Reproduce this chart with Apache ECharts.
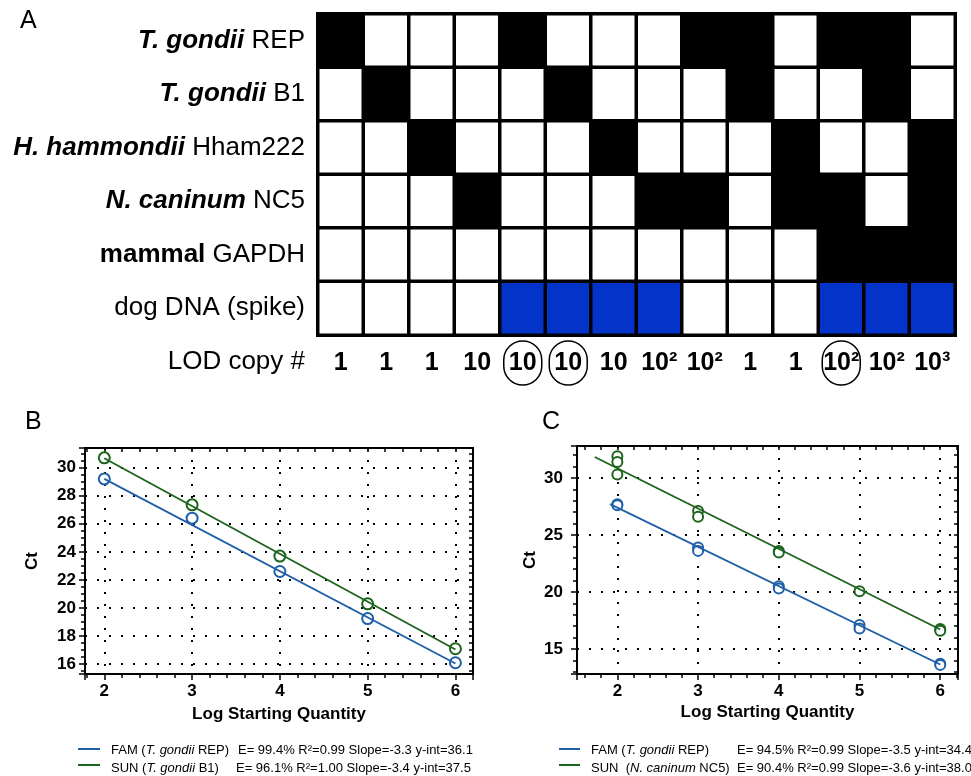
<!DOCTYPE html>
<html>
<head>
<meta charset="utf-8">
<script src="https://cdn.jsdelivr.net/npm/echarts@6/dist/echarts.min.js"></script>
<style>
  html, body { margin: 0; padding: 0; background: #fff; }
  #chart { width: 971px; height: 776px; }
</style>
</head>
<body>
<div id="chart"></div>
<script>
// ---------- panel A : detection matrix ----------
var lodLabels = ['1', '1', '1', '10', '10', '10', '10', '10²', '10²', '1', '1', '10²', '10²', '10³'];
var lodCircled = [4, 5, 11];
var rowLabels = [
  '{bi|T. gondii} REP',
  '{bi|T. gondii} B1',
  '{bi|H. hammondii} Hham222',
  '{bi|N. caninum} NC5',
  '{b|mammal} GAPDH',
  'dog DNA (spike)'
];
// 0 = negative, 1 = detected, 2 = dog DNA spike
var cells = [
  [1, 0, 0, 0, 1, 0, 0, 0, 1, 1, 0, 1, 1, 0],
  [0, 1, 0, 0, 0, 1, 0, 0, 0, 1, 0, 0, 1, 0],
  [0, 0, 1, 0, 0, 0, 1, 0, 0, 0, 1, 0, 0, 1],
  [0, 0, 0, 1, 0, 0, 0, 1, 1, 0, 1, 1, 0, 1],
  [0, 0, 0, 0, 0, 0, 0, 0, 0, 0, 0, 1, 1, 1],
  [0, 0, 0, 0, 2, 2, 2, 2, 0, 0, 0, 2, 2, 2]
];

// ---------- panel B : standard curves ----------
var qtyB = [2, 3, 4, 5, 6];
var famB = [29.2, 26.4, 22.6, 19.25, 16.1];
var sunB = [30.7, 27.35, 23.7, 20.3, 17.1];
var famFitBx = [2, 6], famFitBy = [29.2, 16.05];
var sunFitBx = [2, 6], sunFitBy = [30.67, 17.05];

// ---------- panel C : standard curves (replicates) ----------
var famCx = [2, 2, 3, 3, 4, 4, 5, 5, 6, 6];
var famCy = [27.7, 27.6, 23.9, 23.6, 20.5, 20.3, 17.1, 16.8, 13.7, 13.6];
var sunCx = [2, 2, 2, 3, 3, 4, 4, 5, 6, 6];
var sunCy = [31.9, 31.4, 30.3, 27.1, 26.6, 23.6, 23.45, 20.05, 16.75, 16.6];
var famFitCx = [1.91, 6], famFitCy = [27.7, 13.63];
var sunFitCx = [1.72, 6], sunFitCy = [31.84, 16.7];

var legendB = [
  ['FAM (', 'T. gondii', ' REP)', 'E= 99.4% R²=0.99 Slope=-3.3 y-int=36.1'],
  ['SUN (', 'T. gondii', ' B1)', 'E= 96.1% R²=1.00 Slope=-3.4 y-int=37.5']
];
var legendC = [
  ['FAM (', 'T. gondii', ' REP)', 'E= 94.5% R²=0.99 Slope=-3.5 y-int=34.4'],
  ['SUN  (', 'N. caninum', ' NC5)', 'E= 90.4% R²=0.99 Slope=-3.6 y-int=38.0']
];

var BLUE = '#1f5fa8', GREEN = '#1c631c', SPIKE = '#0433c9';
var FONT = 'Liberation Sans, Arial, sans-serif';

function pairs(xs, ys) {
  return xs.map(function (x, i) { return [x, ys[i]]; });
}

var heatData = [];
cells.forEach(function (row, r) {
  row.forEach(function (v, c) { heatData.push([c, r, v]); });
});

// plot frames (pixels) and their data extents
var rectB = { left: 85, top: 448, width: 388, height: 226 };
var extBx = [1.78, 6.2], extBy = [15.3, 31.4];
var rectC = { left: 577, top: 446, width: 381, height: 228 };
var extCx = [1.5, 6.22], extCy = [12.8, 32.8];

// minor tick ranges (min sits on a multiple of the step)
var tickBx = [1.8, 6.2, 0.2], tickBy = [15.5, 31, 0.5];
var tickCx = [1.6, 6.2, 0.2], tickCy = [13, 32, 1];

function subRect(r, ex, ey, tx, ty) {
  var sx = r.width / (ex[1] - ex[0]), sy = r.height / (ey[1] - ey[0]);
  return {
    left: r.left + (tx[0] - ex[0]) * sx,
    width: (tx[1] - tx[0]) * sx,
    top: r.top + (ey[1] - ty[1]) * sy,
    height: (ty[1] - ty[0]) * sy,
    offL: (tx[0] - ex[0]) * sx,
    offR: (ex[1] - tx[1]) * sx,
    offB: (ty[0] - ey[0]) * sy,
    offT: (ey[1] - ty[1]) * sy
  };
}

var boldLabel = { fontFamily: FONT, fontSize: 17, fontWeight: 'bold', color: '#000' };
var intOnly = function (v) { return Math.abs(v - Math.round(v)) < 1e-6 ? String(Math.round(v)) : ''; };

function mainX(grid, ext, gap) {
  return {
    type: 'value', gridIndex: grid, min: ext[0], max: ext[1], splitNumber: 5,
    name: 'Log Starting Quantity', nameLocation: 'middle', nameGap: gap,
    nameTextStyle: boldLabel,
    axisLine: { show: true, onZero: false, lineStyle: { color: '#000', width: 2 } },
    axisTick: { show: true, length: 6, lineStyle: { color: '#000', width: 1.5 } },
    axisLabel: Object.assign({ margin: 9, formatter: intOnly }, boldLabel),
    splitLine: { show: true, lineStyle: { color: '#000', width: 2, type: [2, 10] } }
  };
}
function mainY(grid, ext, split, gap, margin) {
  return {
    type: 'value', gridIndex: grid, min: ext[0], max: ext[1], splitNumber: split,
    name: 'Ct', nameLocation: 'middle', nameGap: gap, nameRotate: 90,
    nameTextStyle: boldLabel,
    axisLine: { show: true, onZero: false, lineStyle: { color: '#000', width: 2 } },
    axisTick: { show: true, length: 6, lineStyle: { color: '#000', width: 1.5 } },
    axisLabel: Object.assign({ margin: margin, formatter: intOnly }, boldLabel),
    splitLine: { show: true, lineStyle: { color: '#000', width: 2, type: [2, 10] } }
  };
}
function tickAxis(grid, t, pos, inside, offset) {
  return {
    type: 'value', gridIndex: grid, position: pos, offset: offset,
    min: t[0], max: t[1], interval: t[2],
    axisLine: { show: false, onZero: false },
    axisLabel: { show: false },
    splitLine: { show: false },
    axisTick: { show: true, inside: inside, length: 4, lineStyle: { color: '#000', width: 1.5 } }
  };
}

var tB = subRect(rectB, extBx, extBy, tickBx, tickBy);
var tC = subRect(rectC, extCx, extCy, tickCx, tickCy);

var graphics = [
  { type: 'text', left: 20, top: 9, style: { text: 'A', fontFamily: FONT, fontSize: 25, fill: '#000' } },
  { type: 'text', left: 25, top: 410, style: { text: 'B', fontFamily: FONT, fontSize: 25, fill: '#000' } },
  { type: 'text', left: 542, top: 410, style: { text: 'C', fontFamily: FONT, fontSize: 25, fill: '#000' } },
  { type: 'text', right: 971 - 305, top: 349, style: { text: 'LOD copy #', fontFamily: FONT, fontSize: 26, fill: '#000' } }
];

function addLegend(rows, lineX, textX, eX, ys) {
  rows.forEach(function (r, i) {
    var col = i === 0 ? BLUE : GREEN;
    graphics.push({ type: 'line', shape: { x1: lineX[0], y1: ys[i][0], x2: lineX[1], y2: ys[i][0] },
      style: { stroke: col, lineWidth: 2 } });
    graphics.push({ type: 'text', x: textX, y: ys[i][1], style: {
      text: r[0] + '{i|' + r[1] + '}' + r[2], fontFamily: FONT, fontSize: 13, fill: '#000',
      verticalAlign: 'middle', rich: { i: { fontStyle: 'italic', fontFamily: FONT, fontSize: 13 } } } });
    graphics.push({ type: 'text', x: eX[i], y: ys[i][1], style: {
      text: r[3], fontFamily: FONT, fontSize: 13, fill: '#000', verticalAlign: 'middle' } });
  });
}
addLegend(legendB, [78, 100], 111, [238, 236], [[749, 750], [765, 768]]);
addLegend(legendC, [559, 580], 591, [737, 737], [[749, 750], [765, 768]]);

function scatterStyle(col, w) {
  return { color: col, borderColor: col, borderWidth: w, opacity: 1 };
}

var option = {
  animation: false,
  backgroundColor: '#fff',
  textStyle: { fontFamily: FONT },
  grid: [
    { left: 318, top: 14, width: 637, height: 321 },
    Object.assign({ show: true, borderColor: '#000', borderWidth: 2, backgroundColor: 'transparent' }, rectB),
    Object.assign({ show: true, borderColor: '#000', borderWidth: 2, backgroundColor: 'transparent' }, rectC),
    { left: tB.left, top: tB.top, width: tB.width, height: tB.height },
    { left: tC.left, top: tC.top, width: tC.width, height: tC.height }
  ],
  visualMap: {
    type: 'piecewise', show: false, seriesIndex: 0, dimension: 2,
    pieces: [{ value: 0, color: '#fff' }, { value: 1, color: '#000' }, { value: 2, color: SPIKE }]
  },
  xAxis: [
    {
      type: 'category', gridIndex: 0, data: lodLabels,
      axisLine: { show: false }, axisTick: { show: false }, splitLine: { show: false },
      axisLabel: {
        interval: 0, margin: 6, fontFamily: FONT, fontSize: 25, fontWeight: 'bold', color: '#000', lineHeight: 44,
        formatter: function (v, i) { return lodCircled.indexOf(i) >= 0 ? '{c|' + v + '}' : v; },
        rich: { c: { fontFamily: FONT, fontSize: 25, fontWeight: 'bold', color: '#000', borderColor: '#000',
          borderWidth: 1.5, borderRadius: 22, width: 38, height: 44, lineHeight: 44, align: 'center' } }
      }
    },
    mainX(1, extBx, 32),
    mainX(2, extCx, 30),
    tickAxis(3, tickBx, 'bottom', false, tB.offB),
    tickAxis(3, tickBx, 'top', true, tB.offT),
    tickAxis(4, tickCx, 'bottom', false, tC.offB),
    tickAxis(4, tickCx, 'top', true, tC.offT)
  ],
  yAxis: [
    {
      type: 'category', gridIndex: 0, data: rowLabels, inverse: true,
      axisLine: { show: false }, axisTick: { show: false }, splitLine: { show: false },
      axisLabel: {
        margin: 13, fontFamily: FONT, fontSize: 26, color: '#000',
        rich: {
          bi: { fontFamily: FONT, fontSize: 26, fontStyle: 'italic', fontWeight: 'bold', color: '#000' },
          b: { fontFamily: FONT, fontSize: 26, fontWeight: 'bold', color: '#000' }
        }
      }
    },
    mainY(1, extBy, 8, 44, 9),
    mainY(2, extCy, 4, 38, 14),
    tickAxis(3, tickBy, 'left', false, tB.offL),
    tickAxis(3, tickBy, 'right', true, tB.offR),
    tickAxis(4, tickCy, 'left', false, tC.offL),
    tickAxis(4, tickCy, 'right', true, tC.offR)
  ],
  series: [
    {
      type: 'heatmap', xAxisIndex: 0, yAxisIndex: 0, data: heatData,
      itemStyle: { borderColor: '#000', borderWidth: 3.5 },
      emphasis: { disabled: true }
    },
    { type: 'line', xAxisIndex: 1, yAxisIndex: 1, data: pairs(famFitBx, famFitBy), showSymbol: false,
      lineStyle: { color: BLUE, width: 1.8 } },
    { type: 'line', xAxisIndex: 1, yAxisIndex: 1, data: pairs(sunFitBx, sunFitBy), showSymbol: false,
      lineStyle: { color: GREEN, width: 1.8 } },
    { type: 'scatter', xAxisIndex: 1, yAxisIndex: 1, data: pairs(qtyB, famB), symbol: 'emptyCircle', symbolSize: 11,
      itemStyle: scatterStyle(BLUE, 2) },
    { type: 'scatter', xAxisIndex: 1, yAxisIndex: 1, data: pairs(qtyB, sunB), symbol: 'emptyCircle', symbolSize: 11,
      itemStyle: scatterStyle(GREEN, 2) },
    { type: 'line', xAxisIndex: 2, yAxisIndex: 2, data: pairs(famFitCx, famFitCy), showSymbol: false,
      lineStyle: { color: BLUE, width: 1.8 } },
    { type: 'line', xAxisIndex: 2, yAxisIndex: 2, data: pairs(sunFitCx, sunFitCy), showSymbol: false,
      lineStyle: { color: GREEN, width: 1.8 } },
    { type: 'scatter', xAxisIndex: 2, yAxisIndex: 2, data: pairs(famCx, famCy), symbol: 'emptyCircle', symbolSize: 10,
      itemStyle: scatterStyle(BLUE, 2.5) },
    { type: 'scatter', xAxisIndex: 2, yAxisIndex: 2, data: pairs(sunCx, sunCy), symbol: 'emptyCircle', symbolSize: 10,
      itemStyle: scatterStyle(GREEN, 2) }
  ],
  graphic: graphics
};

var myChart = echarts.init(document.getElementById('chart'));
myChart.setOption(option);
</script>
</body>
</html>
